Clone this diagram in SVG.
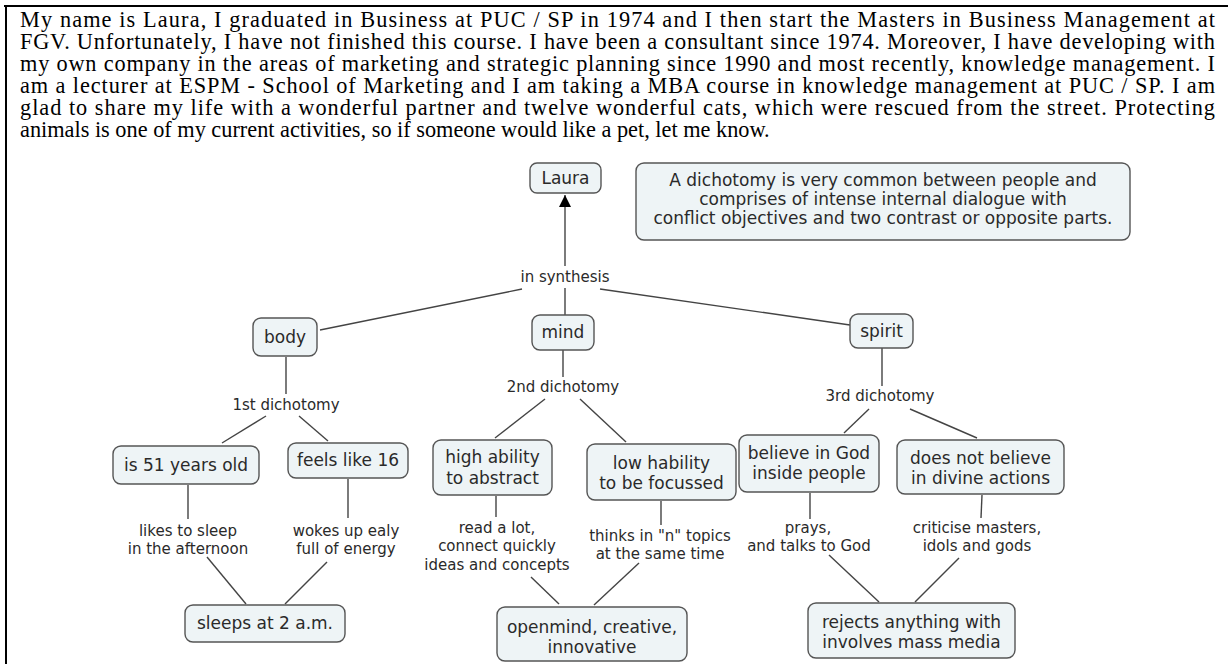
<svg xmlns="http://www.w3.org/2000/svg" width="1232" height="664" viewBox="0 0 1232 664">
<defs>
<style>
.para{font-family:"Liberation Serif","Times New Roman",serif;font-size:22.3px;fill:#000}
.node rect{fill:#eef4f6;stroke:#555;stroke-width:1.4}
.node text{font-family:"DejaVu Sans",Verdana,sans-serif;font-size:17px;fill:#2a2a2a;text-anchor:middle}
.lp{font-family:"DejaVu Sans",Verdana,sans-serif;font-size:15px;fill:#2a2a2a;text-anchor:middle}
.conn line{stroke:#444;stroke-width:1.4}
</style>
<marker id="arr" viewBox="0 0 12 12" refX="12" refY="6" markerWidth="12" markerHeight="12" markerUnits="userSpaceOnUse" orient="auto">
<path d="M0,0 L12,6 L0,12 z" fill="#000"/>
</marker>
</defs>
<rect width="1232" height="664" fill="#fff"/>
<line x1="4" y1="6" x2="1228" y2="6" stroke="#000" stroke-width="2"/>
<line x1="6" y1="5" x2="6" y2="664" stroke="#000" stroke-width="2"/>
<g id="paragraph">
<text class="para" x="20" y="27" textLength="1195" lengthAdjust="spacing">My name is Laura, I graduated in Business at PUC / SP in 1974 and I then start the Masters in Business Management at</text>
<text class="para" x="20" y="49" textLength="1195" lengthAdjust="spacing">FGV. Unfortunately, I have not finished this course. I have been a consultant since 1974. Moreover, I have developing with</text>
<text class="para" x="20" y="71" textLength="1195" lengthAdjust="spacing">my own company in the areas of marketing and strategic planning since 1990 and most recently, knowledge management. I</text>
<text class="para" x="20" y="93" textLength="1195" lengthAdjust="spacing">am a lecturer at ESPM - School of Marketing and I am taking a MBA course in knowledge management at PUC / SP. I am</text>
<text class="para" x="20" y="115" textLength="1195" lengthAdjust="spacing">glad to share my life with a wonderful partner and twelve wonderful cats, which were rescued from the street. Protecting</text>
<text class="para" x="20" y="137">animals is one of my current activities, so if someone would like a pet, let me know.</text>
</g>
<g id="connectors" class="conn">
<line x1="565" y1="266" x2="565" y2="195" marker-end="url(#arr)"/>
<line x1="522" y1="289" x2="320" y2="330"/>
<line x1="565" y1="288" x2="565" y2="315"/>
<line x1="600" y1="289" x2="850" y2="325"/>
<line x1="286" y1="357" x2="286" y2="394"/>
<line x1="266" y1="416" x2="222" y2="443"/>
<line x1="299" y1="416" x2="328" y2="441"/>
<line x1="563" y1="350" x2="563" y2="377"/>
<line x1="545" y1="399" x2="495" y2="438"/>
<line x1="580" y1="399" x2="626" y2="442"/>
<line x1="882" y1="348" x2="882" y2="386"/>
<line x1="869" y1="409" x2="844" y2="433"/>
<line x1="910" y1="409" x2="977" y2="438"/>
<line x1="188" y1="485" x2="188" y2="519"/>
<line x1="348" y1="479" x2="348" y2="518"/>
<line x1="207" y1="557" x2="246" y2="604"/>
<line x1="327" y1="562" x2="285" y2="604"/>
<line x1="496" y1="496" x2="496" y2="517"/>
<line x1="661" y1="501" x2="661" y2="525"/>
<line x1="531" y1="577" x2="559" y2="604"/>
<line x1="639" y1="563" x2="594" y2="605"/>
<line x1="810" y1="493" x2="810" y2="519"/>
<line x1="982" y1="495" x2="981" y2="518"/>
<line x1="829" y1="555" x2="879" y2="602"/>
<line x1="959" y1="558" x2="915" y2="602"/>
</g>
<g id="linking-phrases">
<text class="lp" x="565" y="282">in synthesis</text>
<text class="lp" x="286" y="410">1st dichotomy</text>
<text class="lp" x="563" y="392">2nd dichotomy</text>
<text class="lp" x="880" y="401">3rd dichotomy</text>
<text class="lp" x="188" y="536">likes to sleep</text>
<text class="lp" x="188" y="554">in the afternoon</text>
<text class="lp" x="346" y="536">wokes up ealy</text>
<text class="lp" x="346" y="554">full of energy</text>
<text class="lp" x="497" y="533">read a lot,</text>
<text class="lp" x="497" y="551">connect quickly</text>
<text class="lp" x="497" y="570">ideas and concepts</text>
<text class="lp" x="660" y="541">thinks in "n" topics</text>
<text class="lp" x="660" y="559">at the same time</text>
<text class="lp" x="808" y="533">prays,</text>
<text class="lp" x="809" y="551">and talks to God</text>
<text class="lp" x="977" y="533">criticise masters,</text>
<text class="lp" x="977" y="551">idols and gods</text>
</g>
<g id="n-laura" class="node"><rect x="530" y="163" width="71" height="30" rx="7"/><text x="565.5" y="184">Laura</text></g>
<g id="n-note" class="node"><rect x="636" y="163" width="494" height="77" rx="8"/><text x="883" y="186">A dichotomy is very common between people and</text><text x="883" y="205">comprises of intense internal dialogue with</text><text x="883" y="224">conflict objectives and  two contrast or opposite parts.</text></g>
<g id="n-body" class="node"><rect x="253" y="318" width="64" height="38" rx="8"/><text x="285" y="343">body</text></g>
<g id="n-mind" class="node"><rect x="532" y="315" width="62" height="35" rx="8"/><text x="563" y="338">mind</text></g>
<g id="n-spirit" class="node"><rect x="850" y="314" width="63" height="34" rx="8"/><text x="881.5" y="337">spirit</text></g>
<g id="n-51" class="node"><rect x="113" y="446" width="146" height="38" rx="8"/><text x="186" y="471">is 51 years old</text></g>
<g id="n-16" class="node"><rect x="288" y="443" width="120" height="35" rx="8"/><text x="348" y="466">feels like 16</text></g>
<g id="n-high" class="node"><rect x="433" y="440" width="119" height="55" rx="8"/><text x="492.5" y="463">high ability</text><text x="492.5" y="484">to abstract</text></g>
<g id="n-low" class="node"><rect x="587" y="444" width="149" height="56" rx="8"/><text x="661.5" y="469">low hability</text><text x="661.5" y="489">to be focussed</text></g>
<g id="n-believe" class="node"><rect x="739" y="435" width="140" height="57" rx="8"/><text x="809" y="459">believe in God</text><text x="809" y="479">inside people</text></g>
<g id="n-notbelieve" class="node"><rect x="897" y="440" width="167" height="54" rx="8"/><text x="980.5" y="464">does not believe</text><text x="980.5" y="484">in divine actions</text></g>
<g id="n-sleeps" class="node"><rect x="185" y="605" width="160" height="37" rx="8"/><text x="265" y="629">sleeps at 2 a.m.</text></g>
<g id="n-openmind" class="node"><rect x="497" y="607" width="190" height="54" rx="8"/><text x="592" y="633">openmind, creative,</text><text x="592" y="653">innovative</text></g>
<g id="n-rejects" class="node"><rect x="808" y="603" width="207" height="55" rx="8"/><text x="911.5" y="628">rejects anything with</text><text x="911.5" y="648">involves mass media</text></g>
</svg>
